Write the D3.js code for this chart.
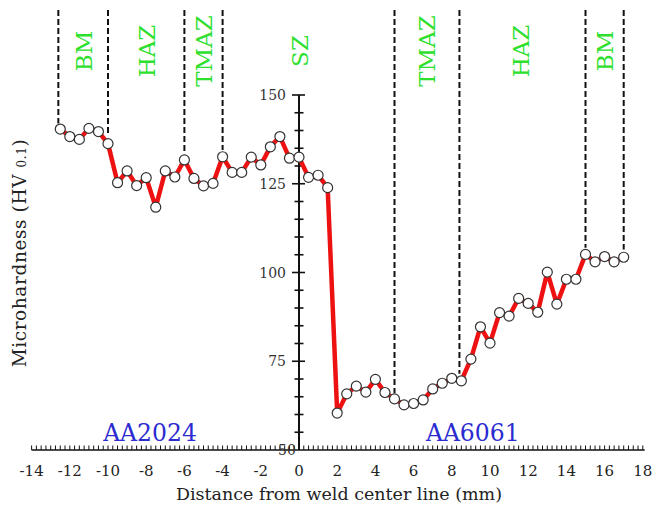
<!DOCTYPE html>
<html>
<head>
<meta charset="utf-8">
<script src="https://cdn.jsdelivr.net/npm/d3@7"></script>
<style>
  html, body { margin: 0; padding: 0; background: #fff; }
  svg { display: block; }
  text { font-family: "DejaVu Serif", "Liberation Serif", serif; }
</style>
</head>
<body>
<svg id="chart" width="656" height="513"></svg>
<script>
// ---- data ----
const distance = [
  -12.5, -12, -11.5, -11, -10.5, -10, -9.5, -9, -8.5, -8, -7.5, -7, -6.5, -6, -5.5, -5,
  -4.5, -4, -3.5, -3, -2.5, -2, -1.5, -1, -0.5, 0, 0.5, 1, 1.5, 2, 2.5, 3, 3.5, 4, 4.5,
  5, 5.5, 6, 6.5, 7, 7.5, 8, 8.5, 9, 9.5, 10, 10.5, 11, 11.5, 12, 12.5, 13, 13.5, 14,
  14.5, 15, 15.5, 16, 16.5, 17
];
const hardness = [
  140.4, 138.3, 137.5, 140.6, 139.7, 136.3, 125.3, 128.6, 124.5, 126.7, 118.4, 128.6, 126.9, 131.7, 126.5, 124.4,
  125.1, 132.6, 128.2, 128.2, 132.5, 130.3, 135.4, 138.3, 132.2, 132.5, 126.8, 127.4, 123.9, 60.4, 65.8, 68.0, 66.3, 69.9, 66.2,
  64.4, 62.7, 63.1, 64.1, 67.2, 68.8, 70.2, 69.5, 75.6, 84.7, 80.1, 88.7, 87.7, 92.7, 91.3, 88.8, 100.1, 91.1, 98.1,
  98.1, 105.1, 103.0, 104.5, 103.0, 104.3
];
// zone boundaries (mm) and the hardness where each dashed line stops
const boundaryX   = [-12.6, -10, -6, -4, 5, 8.4, 15, 17];
const boundaryEnd = [142, 138.5, 133.5, 134.5, 66, 71.5, 107, 106.5];
const zoneNames   = ["BM", "HAZ", "TMAZ", "SZ", "TMAZ", "HAZ", "BM"];
const zoneCenters = [-11.3, -8, -5, 0, 6.7, 11.6, 16];
const alloyNames  = ["AA2024", "AA6061"];
const alloyX      = [-7.8, 9.1];
const xTickLabels = [-14, -12, -10, -8, -6, -4, -2, 0, 2, 4, 6, 8, 10, 12, 14, 16, 18];
const yTickLabels = [150, 125, 100, 75, 50];

// ---- scales ----
const svg = d3.select("#chart");
const x = d3.scaleLinear().domain([-14, 18]).range([31.6, 642.8]);
const y = d3.scaleLinear().domain([50, 150]).range([450, 95]);
const topValue = y.invert(10);

// ---- x axis ----
const gx = svg.append("g");
gx.append("line")
  .attr("x1", x(-14)).attr("x2", x(18.1))
  .attr("y1", y(50)).attr("y2", y(50))
  .attr("stroke", "#111").attr("stroke-width", 1.6);
gx.selectAll("line.t").data(d3.range(-14, 18.01, 0.25)).join("line")
  .attr("class", "t")
  .attr("x1", d => x(d)).attr("x2", d => x(d))
  .attr("y1", y(50)).attr("y2", y(50) - 4.5)
  .attr("stroke", "#111").attr("stroke-width", 1);
gx.selectAll("text").data(xTickLabels).join("text")
  .attr("x", d => x(d)).attr("y", 476)
  .attr("text-anchor", "middle")
  .attr("font-size", 15).attr("fill", "#222")
  .text(d => d);
svg.append("text")
  .attr("x", 339).attr("y", 500)
  .attr("text-anchor", "middle")
  .attr("font-size", 17.5).attr("fill", "#222")
  .attr("textLength", 326).attr("lengthAdjust", "spacingAndGlyphs")
  .text("Distance from weld center line (mm)");

// ---- y axis ----
const gy = svg.append("g");
gy.append("line")
  .attr("x1", x(0)).attr("x2", x(0))
  .attr("y1", y(150)).attr("y2", y(50))
  .attr("stroke", "#111").attr("stroke-width", 2);
gy.selectAll("line.t").data(d3.range(55, 150.1, 5)).join("line")
  .attr("class", "t")
  .attr("x1", d => x(0) - (d % 25 === 0 ? 7 : 4.5))
  .attr("x2", d => x(0) + (d % 25 === 0 ? 6 : 4.5))
  .attr("y1", d => y(d)).attr("y2", d => y(d))
  .attr("stroke", "#111").attr("stroke-width", 1.6);
gy.selectAll("text").data(yTickLabels).join("text")
  .attr("x", d => d === 50 ? x(0) - 12 : x(0) - 13)
  .attr("y", d => y(d) + 5)
  .attr("text-anchor", d => d === 50 ? "middle" : "end")
  .attr("font-size", 14).attr("fill", "#333")
  .text(d => d);

const yl = svg.append("text")
  .attr("transform", "translate(26,253) rotate(-90)")
  .attr("text-anchor", "middle")
  .attr("font-size", 18.5).attr("fill", "#222")
  .attr("letter-spacing", 0.6);
yl.append("tspan").text("Microhardness (HV ");
yl.append("tspan").attr("font-size", 12).text("0.1");
yl.append("tspan").text(")");

// ---- zone dashed lines ----
svg.append("g").selectAll("line").data(boundaryX).join("line")
  .attr("x1", d => x(d)).attr("x2", d => x(d))
  .attr("y1", y(topValue))
  .attr("y2", (d, i) => y(boundaryEnd[i]))
  .attr("stroke", "#111").attr("stroke-width", 2)
  .attr("stroke-dasharray", "6,3");

svg.append("g").selectAll("text").data(zoneNames).join("text")
  .attr("transform", (d, i) => `translate(${x(zoneCenters[i]) + 8.5},51) rotate(-90)`)
  .attr("text-anchor", "middle")
  .attr("font-size", 23).attr("fill", "#2ee02e")
  .text(d => d);

svg.append("g").selectAll("text").data(alloyNames).join("text")
  .attr("x", (d, i) => x(alloyX[i])).attr("y", 441)
  .attr("text-anchor", "middle")
  .attr("font-size", 23.5).attr("fill", "#2b2bd0")
  .text(d => d);

// ---- data line + markers ----
const pts = distance.map((d, i) => [d, hardness[i]]);
svg.append("path")
  .datum(pts)
  .attr("d", d3.line().x(d => x(d[0])).y(d => y(d[1])))
  .attr("fill", "none").attr("stroke", "#ee1111").attr("stroke-width", 4.5)
  .attr("stroke-linejoin", "round");
svg.append("g").selectAll("circle").data(pts).join("circle")
  .attr("cx", d => x(d[0])).attr("cy", d => y(d[1]))
  .attr("r", 5)
  .attr("fill", "#fff").attr("stroke", "#333").attr("stroke-width", 1.2);
</script>
</body>
</html>
